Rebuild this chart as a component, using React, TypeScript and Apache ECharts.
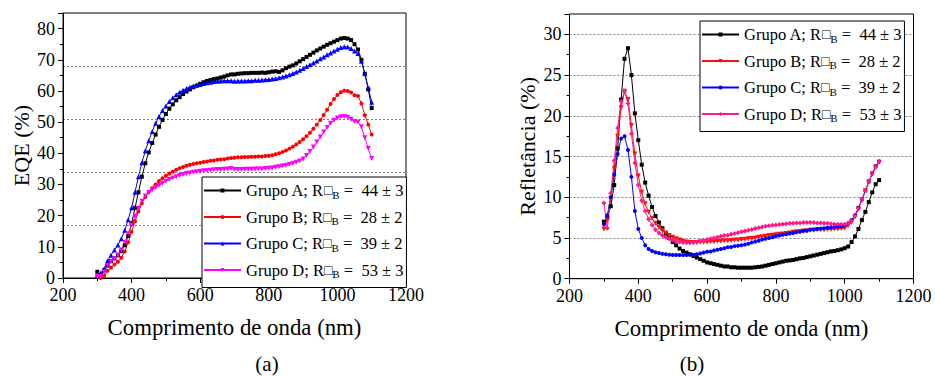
import React, { useEffect, useRef } from 'react';
import * as echarts from 'echarts';

// Wavelength grid (nm)
const wavelengths = [
  300, 310, 320, 330, 340, 350, 360, 370, 380, 390,
  400, 410, 420, 430, 440, 450, 460, 470, 480, 490,
  500, 510, 520, 530, 540, 550, 560, 570, 580, 590,
  600, 610, 620, 630, 640, 650, 660, 670, 680, 690,
  700, 710, 720, 730, 740, 750, 760, 770, 780, 790,
  800, 810, 820, 830, 840, 850, 860, 870, 880, 890,
  900, 910, 920, 930, 940, 950, 960, 970, 980, 990,
  1000, 1010, 1020, 1030, 1040, 1050, 1060, 1070, 1080, 1090,
  1100,
];

// (a) EQE (%)
const eqeA = [
  2.0, 1.0, 2.5, 4.0, 5.4, 6.3, 7.3, 8.6, 10.5, 13.5,
  17.5, 22.5, 27.5, 32.5, 36.8, 40.3, 43.3, 46.0, 48.5, 50.7,
  52.6, 54.3, 55.7, 57.0, 58.0, 59.0, 59.8, 60.5, 61.2, 61.7,
  62.3, 62.8, 63.2, 63.5, 63.8, 64.0, 64.3, 64.6, 65.0, 65.3,
  65.3, 65.5, 65.6, 65.7, 65.7, 65.8, 65.8, 65.8, 65.9, 65.8,
  66.0, 66.2, 66.3, 66.1, 66.6, 67.3, 67.8, 68.2, 68.8, 69.5,
  70.2, 70.9, 71.6, 72.3, 73.0, 73.6, 74.2, 74.8, 75.3, 75.8,
  76.3, 76.8, 77.0, 76.8, 76.3, 75.0, 73.3, 70.0, 65.5, 60.5,
  54.5,
];
const eqeB = [
  0.5, 0.0, 0.8, 2.3, 3.4, 4.3, 5.2, 6.5, 8.5, 11.5,
  14.8, 18.2, 21.3, 24.0, 26.0, 27.6, 28.8, 30.0, 31.1, 32.0,
  32.8, 33.5, 34.1, 34.7, 35.2, 35.6, 36.0, 36.3, 36.6, 36.8,
  37.0, 37.2, 37.4, 37.6, 37.7, 37.9, 38.0, 38.1, 38.3, 38.5,
  38.6, 38.7, 38.7, 38.8, 38.8, 38.9, 38.9, 39.0, 39.0, 39.1,
  39.2, 39.4, 39.7, 40.0, 40.4, 40.9, 41.5, 42.1, 42.8, 43.6,
  44.5, 45.5, 46.6, 47.9, 49.2, 50.7, 52.3, 54.0, 55.8, 57.4,
  58.7, 59.6, 60.1, 60.0, 59.5, 58.6, 58.4, 56.0, 52.2, 49.2,
  46.0,
];
const eqeC = [
  0.8, 1.6, 3.0, 5.5, 7.3, 9.0, 10.6, 12.6, 15.3, 18.7,
  22.5, 27.5, 32.5, 37.0, 40.8, 44.0, 47.0, 49.6, 51.8, 53.7,
  55.2, 56.6, 57.8, 58.8, 59.6, 60.2, 60.8, 61.2, 61.6, 61.9,
  62.1, 62.4, 62.6, 62.8, 63.0, 63.1, 63.2, 63.3, 63.3, 63.3,
  63.1, 63.2, 63.2, 63.2, 63.3, 63.3, 63.4, 63.4, 63.5, 63.6,
  63.7, 63.8, 64.0, 64.2, 64.5, 64.8, 65.2, 65.6, 66.1, 66.6,
  67.2, 67.8, 68.4, 69.0, 69.6, 70.3, 70.9, 71.6, 72.2, 72.8,
  73.4, 73.9, 74.2, 74.1, 73.6, 72.8, 72.0, 69.5, 65.5, 61.0,
  56.4,
];
const eqeD = [
  0.5, 0.6, 2.0, 4.0, 5.2, 6.2, 7.4, 9.0, 11.4, 14.2,
  17.0, 19.8, 22.3, 24.6, 26.3, 27.4, 28.2, 29.0, 29.7, 30.4,
  31.0, 31.6, 32.1, 32.5, 32.9, 33.2, 33.5, 33.7, 33.9, 34.1,
  34.2, 34.4, 34.5, 34.6, 34.7, 34.8, 34.8, 34.9, 35.0, 35.1,
  34.8, 34.8, 34.8, 34.9, 34.9, 34.9, 35.0, 35.0, 35.0, 35.1,
  35.2, 35.3, 35.5, 35.7, 35.9, 36.1, 36.4, 36.7, 37.1, 37.5,
  38.2, 39.3, 40.6, 42.0, 43.6, 45.2, 46.8, 48.3, 49.6, 50.6,
  51.3, 51.7, 51.8, 51.6, 50.8, 50.2, 50.0, 48.5, 45.0, 41.5,
  38.3,
];

// (b) Refletância (%)
const refA = [
  7.0, 7.5, 8.9, 11.5, 16.0, 22.0, 27.0, 28.3, 25.0, 20.3,
  17.0, 14.0, 11.8, 10.2, 8.8, 7.7, 6.9, 6.2, 5.5, 5.0,
  4.5, 4.1, 3.7, 3.4, 3.2, 3.0, 2.8, 2.6, 2.4, 2.2,
  2.0, 1.9, 1.8, 1.7, 1.6, 1.5, 1.5, 1.4, 1.4, 1.35,
  1.35, 1.35, 1.35, 1.35, 1.4, 1.45, 1.5, 1.6, 1.7, 1.8,
  1.9, 2.0, 2.1, 2.2, 2.25, 2.3, 2.4, 2.5, 2.55, 2.65,
  2.75, 2.85, 2.95, 3.05, 3.15, 3.25, 3.35, 3.4, 3.5, 3.6,
  3.75, 3.95, 4.5, 5.2, 6.1, 7.2, 8.2, 9.4, 10.6, 11.6,
  12.1,
];
const refB = [
  6.1, 7.2, 9.8, 13.5, 17.5, 21.0, 23.0, 22.0, 18.8, 15.3,
  12.6, 10.6, 9.2, 8.2, 7.4, 6.8, 6.3, 5.9, 5.6, 5.3,
  5.1, 4.9, 4.75, 4.6, 4.5, 4.45, 4.45, 4.45, 4.5, 4.5,
  4.5, 4.55, 4.55, 4.6, 4.6, 4.65, 4.65, 4.7, 4.75, 4.75,
  4.8, 4.85, 4.9, 4.95, 5.0, 5.1, 5.15, 5.2, 5.3, 5.35,
  5.4, 5.45, 5.5, 5.55, 5.6, 5.7, 5.75, 5.8, 5.85, 5.9,
  5.95, 5.95, 6.0, 6.0, 6.0, 6.05, 6.05, 6.1, 6.1, 6.15,
  6.2, 6.5, 6.9, 7.6, 8.6, 9.7, 10.8, 11.9, 12.9, 13.7,
  14.3,
];
const refC = [
  6.7, 7.8, 10.0, 12.8, 15.3, 17.2, 17.5, 15.8, 12.5, 8.3,
  6.1, 5.0, 4.1, 3.65, 3.4, 3.25, 3.15, 3.05, 3.0, 2.95,
  2.9, 2.9, 2.9, 2.9, 2.9, 2.95, 2.95, 3.0, 3.1, 3.2,
  3.3, 3.35, 3.45, 3.55, 3.65, 3.75, 3.85, 3.9, 4.0, 4.05,
  4.1, 4.2, 4.3, 4.45, 4.55, 4.65, 4.8, 4.9, 5.0, 5.1,
  5.2, 5.3, 5.4, 5.45, 5.55, 5.6, 5.7, 5.75, 5.85, 5.9,
  6.0, 6.05, 6.1, 6.15, 6.2, 6.25, 6.3, 6.35, 6.4, 6.45,
  6.55, 6.8, 7.2, 7.8, 8.7, 9.7, 10.8, 11.9, 12.9, 13.8,
  14.4,
];
const refD = [
  9.3, 6.2, 10.5, 14.5, 18.5, 21.8, 23.0, 21.5, 17.8, 14.2,
  11.5, 9.6, 8.3, 7.3, 6.6, 6.0, 5.6, 5.3, 5.1, 4.9,
  4.75, 4.6, 4.5, 4.45, 4.4, 4.4, 4.45, 4.5, 4.6, 4.7,
  4.8, 4.9, 5.0, 5.1, 5.2, 5.3, 5.35, 5.45, 5.55, 5.65,
  5.75, 5.85, 5.95, 6.05, 6.15, 6.25, 6.35, 6.45, 6.5, 6.55,
  6.6, 6.65, 6.7, 6.75, 6.8, 6.8, 6.85, 6.85, 6.9, 6.9,
  6.9, 6.9, 6.85, 6.85, 6.8, 6.8, 6.75, 6.7, 6.7, 6.7,
  6.7, 6.8, 7.1, 7.7, 8.6, 9.7, 10.8, 11.9, 12.9, 13.7,
  14.4,
];

const groups = ['A', 'B', 'C', 'D'];
const sheetRes = ['44 ± 3', '28 ± 2', '39 ± 2', '53 ± 3'];
const xTitle = 'Comprimento de onda (nm)';
const yTitleA = 'EQE (%)';
const yTitleB = 'Refletância (%)';

const FONT = '"Liberation Serif", "Times New Roman", serif';

export default function App() {
  const ref = useRef<HTMLDivElement>(null);

  useEffect(() => {
    if (!ref.current) return;
    const chart = echarts.init(ref.current, null, { renderer: 'svg' });

    const pairs = (arr: number[]) => wavelengths.map((w, i) => [w, arr[i]]);

    const leftStyles = [
      { color: '#000000', symbol: 'rect', size: 4, rotate: 0 },
      { color: '#FF0000', symbol: 'circle', size: 4, rotate: 0 },
      { color: '#0000FF', symbol: 'triangle', size: 5, rotate: 0 },
      { color: '#FF00FF', symbol: 'triangle', size: 5, rotate: 180 },
    ];
    const rightStyles = [
      { color: '#000000', symbol: 'rect', size: 4, rotate: 0 },
      { color: '#FF1010', symbol: 'triangle', size: 5, rotate: 180 },
      { color: '#0000FF', symbol: 'circle', size: 4, rotate: 0 },
      { color: '#FF1A8C', symbol: 'diamond', size: 5, rotate: 0 },
    ];
    const eqe = [eqeA, eqeB, eqeC, eqeD];
    const refl = [refA, refB, refC, refD];

    const labelOf: Record<string, string> = {};
    groups.forEach((g, i) => {
      const txt = `{n|Grupo ${g}; R}{q|□}{s|B}{n| =  ${sheetRes[i]}}`;
      labelOf[g + '1'] = txt;
      labelOf[g + '2'] = txt;
    });

    const mkSeries = (suffix: string, data: number[][], styles: any[], xi: number, yi: number) =>
      groups.map((g, i) => ({
        name: g + suffix,
        type: 'line',
        xAxisIndex: xi,
        yAxisIndex: yi,
        data: pairs(data[i]),
        symbol: styles[i].symbol,
        symbolSize: styles[i].size,
        symbolRotate: styles[i].rotate,
        showSymbol: true,
        showAllSymbol: true,
        lineStyle: { color: styles[i].color, width: 1 },
        itemStyle: { color: styles[i].color },
        emphasis: { disabled: true },
        z: 3,
      }));

    const fmt = (v: number) => String(v);
    const axisText = { fontFamily: FONT, fontSize: 18, color: '#000', formatter: fmt };
    const nameText = { fontFamily: FONT, fontSize: 22, color: '#000' };
    const line = { show: true, onZero: false, lineStyle: { color: '#000', width: 1 } };
    const tick = { show: true, inside: false, length: 5, lineStyle: { color: '#000', width: 1 } };
    const minor = { show: true, splitNumber: 2, length: 3, lineStyle: { color: '#000', width: 1 } };
    const dashed = { show: true, lineStyle: { color: '#808080', width: 1, type: [2, 2] } };

    const xAx = (gi: number) => ({
      type: 'value',
      gridIndex: gi,
      min: 200,
      max: 1200,
      interval: 200,
      axisLine: line,
      axisTick: tick,
      minorTick: minor,
      axisLabel: { ...axisText, margin: 8 },
      splitLine: { show: false },
      name: xTitle,
      nameLocation: 'middle',
      nameGap: 38,
      nameTextStyle: { ...nameText, fontSize: 22.8 },
    });

    const legendCommon = {
      orient: 'vertical',
      align: 'left',
      selectedMode: false,
      backgroundColor: '#ffffff',
      borderColor: '#000',
      borderWidth: 1,
      padding: [4, 3, 8, 1],
      itemWidth: 37,
      itemHeight: 5,
      itemGap: 7.5,
      formatter: (name: string) => labelOf[name],
      textStyle: {
        fontFamily: FONT,
        fontSize: 16.5,
        color: '#000',
        lineHeight: 16,
        rich: {
          n: { fontFamily: FONT, fontSize: 16.5, color: '#000', lineHeight: 16 },
          q: { fontFamily: FONT, fontSize: 14, color: '#000', lineHeight: 16 },
          s: { fontFamily: FONT, fontSize: 11, color: '#000', lineHeight: 10, padding: [8, 0, 0, 0] },
        },
      },
    };

    const option: any = {
      animation: false,
      textStyle: { fontFamily: FONT },
      grid: [
        { left: 63, top: 13, width: 343, height: 265, show: true, borderColor: '#000', borderWidth: 1, backgroundColor: 'transparent' },
        { left: 569.5, top: 14, width: 344, height: 264.7, show: true, borderColor: '#000', borderWidth: 1, backgroundColor: 'transparent' },
      ],
      xAxis: [xAx(0), xAx(1)],
      yAxis: [
        {
          type: 'value',
          gridIndex: 0,
          min: 0,
          max: 85,
          interval: 10,
          axisLine: line,
          axisTick: tick,
          minorTick: minor,
          axisLabel: { ...axisText, margin: 8, showMaxLabel: false },
          splitLine: { show: false },
          name: yTitleA,
          nameLocation: 'middle',
          nameGap: 31,
          nameTextStyle: nameText,
        },
        {
          type: 'value',
          gridIndex: 0,
          min: 0,
          max: 85,
          interval: 17,
          position: 'right',
          axisLine: { show: false },
          axisTick: { show: false },
          axisLabel: { show: false },
          splitLine: dashed,
        },
        {
          type: 'value',
          gridIndex: 1,
          min: 0,
          max: 32.5,
          interval: 5,
          axisLine: line,
          axisTick: tick,
          minorTick: minor,
          axisLabel: { ...axisText, margin: 8, showMaxLabel: false },
          splitLine: dashed,
          name: yTitleB,
          nameLocation: 'middle',
          nameGap: 31,
          nameTextStyle: nameText,
        },
      ],
      legend: [
        { ...legendCommon, left: 202, top: 177, data: groups.map((g) => g + '1') },
        { ...legendCommon, left: 700, top: 21, data: groups.map((g) => g + '2') },
      ],
      series: [
        ...mkSeries('1', eqe, leftStyles, 0, 0),
        ...mkSeries('2', refl, rightStyles, 1, 2),
      ],
      graphic: [
        { type: 'text', x: 267, y: 364, style: { text: '(a)', font: '21px "Liberation Serif"', fill: '#000', align: 'center', verticalAlign: 'middle' } },
        { type: 'text', x: 692, y: 364, style: { text: '(b)', font: '21px "Liberation Serif"', fill: '#000', align: 'center', verticalAlign: 'middle' } },
      ],
    };

    chart.setOption(option);
    return () => chart.dispose();
  }, []);

  return (
    <div
      ref={ref}
      style={{ position: 'fixed', left: 0, top: 0, width: 935, height: 376, background: '#fff' }}
    />
  );
}
